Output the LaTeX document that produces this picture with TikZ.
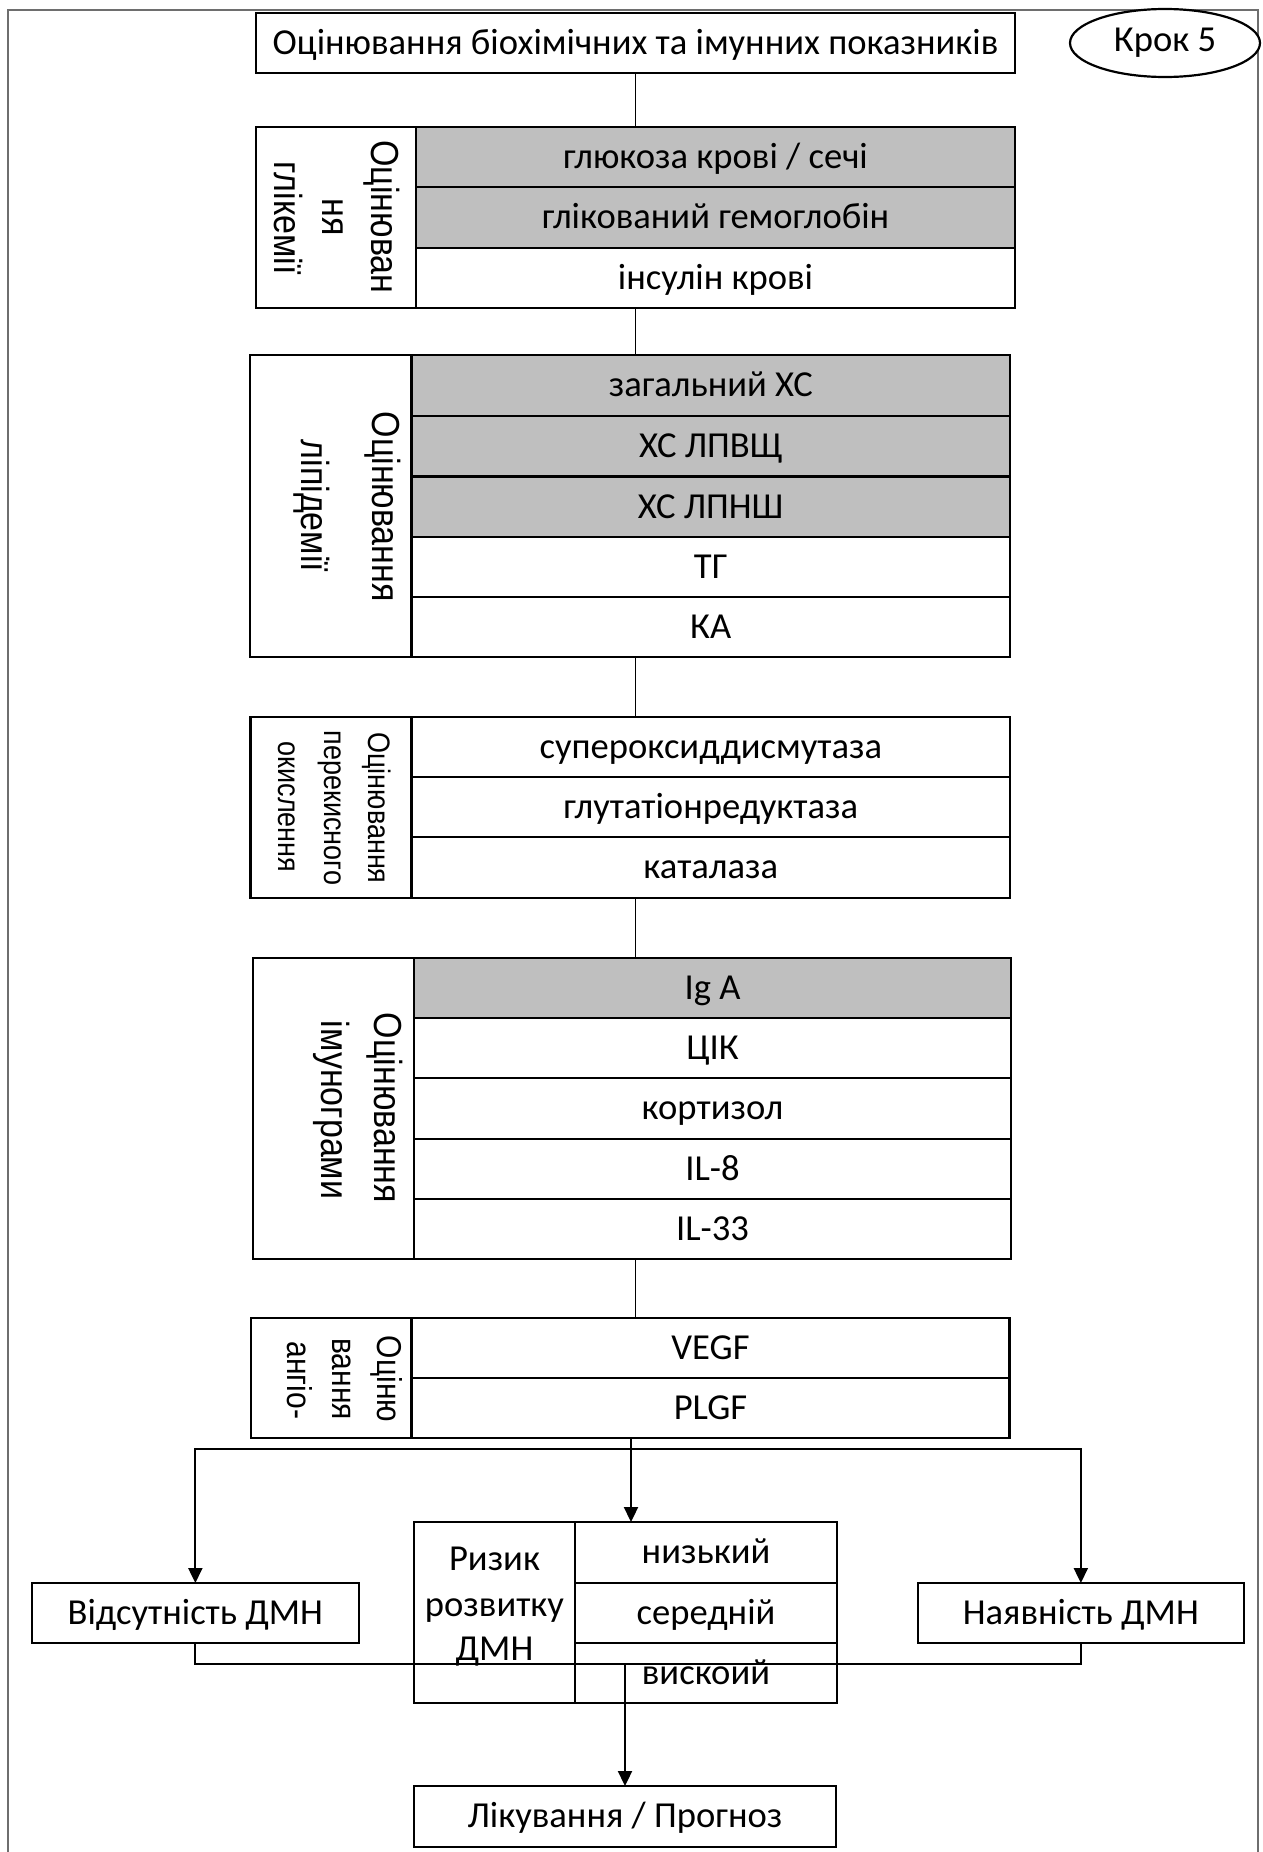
\documentclass[tikz,border=0pt]{standalone}
\usepackage{fontspec}
\usepackage{graphicx}
\setmainfont{Carlito}
\newfontfamily\arialf{Liberation Sans}
\usetikzlibrary{shapes.geometric,arrows.meta}
\definecolor{cellgray}{RGB}{191,191,191}
\definecolor{framegray}{RGB}{110,110,110}
\newcommand\mainsz{\fontsize{18.3}{22}\selectfont}
\newcommand\vtxt[2]{\scalebox{1}[1.15]{\arialf\fontsize{#1}{#1}\selectfont #2}}
% \cellbox{name}{x1}{y1}{x2}{y2}{style}{text}
\newcommand\cellbox[7]{%
  \pgfmathsetmacro\cbw{(#4-#2)*0.5}%
  \pgfmathsetmacro\cbh{(#5-#3)*0.5}%
  \node[#6, minimum width=\cbw pt, minimum height=\cbh pt] (#1) at ({(#2+#4)/2},{(#3+#5)/2}) {#7};}
\begin{document}
\begin{tikzpicture}[x=0.5pt,y=-0.5pt,
  box/.style={draw, line width=1.1pt, inner sep=0pt, outer sep=0pt, fill=white, font=\mainsz, text height=14.7pt, text depth=3.3pt},
  gbox/.style={box, fill=cellgray},
  vlab/.style={rotate=-90, inner sep=0pt, anchor=center},
  txt/.style={inner sep=0pt, anchor=base, font=\mainsz},
  thinln/.style={line width=0.65pt},
  thickln/.style={line width=1.1pt},
  arr/.style={line width=1.1pt, -{Triangle[length=7.5pt,width=7pt]}}]
\useasboundingbox (0,0) rectangle (1263,1852);
% outer frame
\draw[framegray, line width=0.8pt] (8,1856) -- (8,10) -- (1258,10) -- (1258,1856);

% title
\cellbox{top}{256}{13}{1015}{73}{box}{Оцінювання біохімічних та імунних показників}
\node[draw, ellipse, line width=1.1pt, fill=white, minimum width=95pt, minimum height=34pt, inner sep=0pt, font=\mainsz] (stepno) at (1165,43) {Крок 5};

% glycemia
\cellbox{gl}{256}{127}{416}{308}{box}{}
\cellbox{g1}{416}{127}{1015}{187}{gbox}{глюкоза крові / сечі}
\cellbox{g2}{416}{187}{1015}{248}{gbox}{глікований гемоглобін}
\cellbox{g3}{416}{248}{1015}{308}{box}{інсулін крові}
\node[vlab] (gla) at (381.7,217) {\vtxt{17}{Оцінюван}};
\node[vlab] (glb) at (333,217) {\vtxt{17}{ня}};
\node[vlab] (glc) at (288,218) {\vtxt{17}{глікемії}};

% lipids
\cellbox{ll}{250}{355}{411.5}{657}{box}{}
\cellbox{l1}{411.5}{355}{1010}{416}{gbox}{загальний ХС}
\cellbox{l2}{411.5}{416}{1010}{476.5}{gbox}{ХС ЛПВЩ}
\cellbox{l3}{411.5}{476.5}{1010}{537}{gbox}{ХС ЛПНШ}
\cellbox{l4}{411.5}{537}{1010}{597}{box}{ТГ}
\cellbox{l5}{411.5}{597}{1010}{657}{box}{КА}
\node[vlab] (lla) at (383,506.7) {\vtxt{17}{Оцінювання}};
\node[vlab] (llb) at (311.7,506) {\vtxt{17}{ліпідемії}};

% peroxidation
\cellbox{pl}{250.5}{717}{411.5}{898}{box}{}
\cellbox{p1}{411.5}{717}{1010}{777}{box}{супероксиддисмутаза}
\cellbox{p2}{411.5}{777}{1010}{837}{box}{глутатіонредуктаза}
\cellbox{p3}{411.5}{837}{1010}{898}{box}{каталаза}
\node[vlab] (pla) at (376.7,808) {\vtxt{13.5}{Оцінювання}};
\node[vlab] (plb) at (330,808) {\vtxt{13.5}{перекисного}};
\node[vlab] (plc) at (286.7,807) {\vtxt{13.5}{окислення}};

% immunogram
\cellbox{il}{253}{958}{414}{1259}{box}{}
\cellbox{i1}{414}{958}{1011}{1018}{gbox}{Ig A}
\cellbox{i2}{414}{1018}{1011}{1078}{box}{ЦІК}
\cellbox{i3}{414}{1078}{1011}{1139}{box}{кортизол}
\cellbox{i4}{414}{1139}{1011}{1199}{box}{IL-8}
\cellbox{i5}{414}{1199}{1011}{1259}{box}{IL-33}
\node[vlab] (ila) at (385,1108) {\vtxt{17}{Оцінювання}};
\node[vlab] (ilb) at (331.7,1110) {\vtxt{17}{імунограми}};

% angiogenesis
\cellbox{al}{251}{1318}{411.5}{1438}{box}{}
\cellbox{a1}{411.5}{1318}{1009.5}{1378}{box}{VEGF}
\cellbox{a2}{411.5}{1378}{1009.5}{1438}{box}{PLGF}
\node[vlab] (ala) at (386.6,1379) {\vtxt{15}{Оціню}};
\node[vlab] (alb) at (342,1379) {\vtxt{15}{вання}};
\node[vlab] (alc) at (299.6,1380.5) {\vtxt{15}{ангіо-}};

% outcome boxes
\cellbox{abs}{32}{1583}{358.7}{1643}{box}{Відсутність ДМН}
\cellbox{pres}{917.7}{1583}{1244}{1643}{box}{Наявність ДМН}

% risk box
\cellbox{rl}{414}{1522}{575}{1703}{box}{}
\cellbox{r1}{575}{1522}{837}{1583}{box}{низький}
\cellbox{r2}{575}{1583}{837}{1643}{box}{середній}
\cellbox{r3}{575}{1643}{837}{1703}{box}{вискоий}
\node[txt] (rla) at (494.5,1570) {Ризик};
\node[txt] (rlb) at (494.5,1616) {розвитку};
\node[txt] (rlc) at (494.5,1660) {ДМН};

% treatment
\cellbox{tr}{414}{1786}{836}{1847}{box}{Лікування / Прогноз}

% spine connectors
\draw[thinln] (top.south) -- (top.south |- gl.north);
\draw[thinln] (top.south |- g3.south) -- (top.south |- l1.north);
\draw[thinln] (top.south |- l5.south) -- (top.south |- p1.north);
\draw[thinln] (top.south |- p3.south) -- (top.south |- i1.north);
\draw[thinln] (top.south |- i5.south) -- (top.south |- a1.north);

% distribution
\coordinate (mid) at (631,1438);
\coordinate (hj) at (631,1449);
\draw[arr] (mid) -- (mid |- r1.north);
\draw[arr] (hj) -| (abs.north);
\draw[arr] (hj) -| (pres.north);

% collection
\coordinate (lj) at (625,1664);
\draw[thickln] (abs.south) |- (lj) -| (pres.south);
\draw[arr] (lj) -- (lj |- tr.north);
\end{tikzpicture}
\end{document}
